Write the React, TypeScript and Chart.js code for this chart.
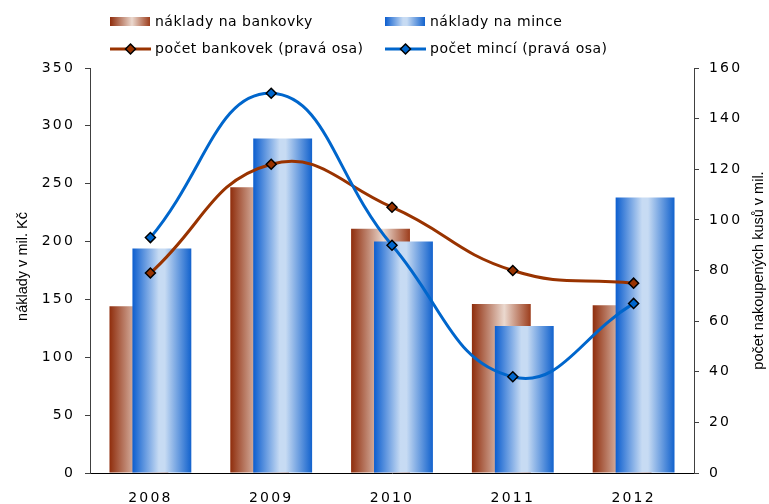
import React, { useEffect, useRef } from 'react';
import { Chart, registerables } from 'chart.js';

Chart.register(...registerables);

// ---- data ----
const categories = ['2008', '2009', '2010', '2011', '2012'];
const nakladyBankovky = [144, 247, 211, 146, 145];
const nakladyMince = [194, 289, 200, 127, 238];
const pocetBankovek = [79, 122, 105, 80, 75];
const pocetMinci = [93, 150, 90, 38, 67];
const seriesLabels = [
  'náklady na bankovky',
  'náklady na mince',
  'počet bankovek (pravá osa)',
  'počet mincí (pravá osa)',
];
const leftAxisTitle = 'náklady v mil. Kč';
const rightAxisTitle = 'počet nakoupených kusů v mil.';
const leftMax = 350;
const leftStep = 50;
const rightMax = 160;
const rightStep = 20;

// ---- styles ----
const BROWN = '#993300';
const BLUE = '#0066CC';
const brownStops: [number, string][] = [
  [0, '#8F2D0C'],
  [0.55, '#EBD9CF'],
  [1, '#9C3D1C'],
];
const blueStops: [number, string][] = [
  [0, '#0C5ECF'],
  [0.45, '#C7DBF3'],
  [0.55, '#C7DBF3'],
  [1, '#1262CD'],
];
const TICK_FONT = { family: 'DejaVu Sans', size: 14 };
const TITLE_FONT = '14.5px "Liberation Sans", Arial, sans-serif';
const LEGEND_FONT = '14px "DejaVu Sans", sans-serif';

function makeGradient(ctx: CanvasRenderingContext2D, x0: number, x1: number, stops: [number, string][]) {
  const g = ctx.createLinearGradient(x0, 0, x1, 0);
  stops.forEach(([o, c]) => g.addColorStop(o, c));
  return g;
}

function drawDiamond(ctx: CanvasRenderingContext2D, x: number, y: number, r: number, fill: string) {
  ctx.beginPath();
  ctx.moveTo(x, y - r);
  ctx.lineTo(x + r, y);
  ctx.lineTo(x, y + r);
  ctx.lineTo(x - r, y);
  ctx.closePath();
  ctx.fillStyle = fill;
  ctx.fill();
  ctx.lineWidth = 1.5;
  ctx.strokeStyle = '#000';
  ctx.stroke();
}

const decorPlugin = {
  id: 'decor',
  beforeDraw(chart: any) {
    chart.ctx.letterSpacing = '2.2px';
  },
  beforeDatasetsDraw(chart: any) {
    const ctx = chart.ctx;
    [0, 1].forEach((di) => {
      const meta = chart.getDatasetMeta(di);
      const stops = di === 0 ? brownStops : blueStops;
      meta.data.forEach((el: any) => {
        const { x, width } = el.getProps(['x', 'width'], true);
        const g = makeGradient(ctx, x - width / 2, x + width / 2, stops);
        el.options = { ...el.options, backgroundColor: g };
      });
    });
  },
  beforeDatasetDraw(chart: any, args: any) {
    // keep the brown bars behind the blue bars
    if (args.index === 0) return false;
    if (args.index === 1) {
      chart.getDatasetMeta(0).controller.draw();
    }
    return true;
  },
  afterDraw(chart: any) {
    const ctx: CanvasRenderingContext2D = chart.ctx;
    const area = chart.chartArea;
    ctx.save();
    (ctx as any).letterSpacing = '0px';
    ctx.fillStyle = '#000';
    ctx.font = TITLE_FONT;
    ctx.textAlign = 'center';
    ctx.textBaseline = 'alphabetic';
    const midY = (area.top + area.bottom) / 2;
    // left title
    ctx.save();
    ctx.translate(27, midY - 4);
    ctx.rotate(-Math.PI / 2);
    ctx.fillText(leftAxisTitle, 0, 0);
    ctx.restore();
    // right title
    ctx.save();
    ctx.translate(763, midY);
    ctx.rotate(-Math.PI / 2);
    ctx.fillText(rightAxisTitle, 0, 0);
    ctx.restore();

    // legend
    (ctx as any).letterSpacing = '0.5px';
    ctx.font = LEGEND_FONT;
    ctx.textAlign = 'left';
    ctx.textBaseline = 'alphabetic';
    const cols = [110, 385];
    const textX = [155, 430];
    // row 1: bars
    [brownStops, blueStops].forEach((stops, i) => {
      const x0 = cols[i];
      ctx.fillStyle = makeGradient(ctx, x0, x0 + 40, stops);
      ctx.fillRect(x0, 17, 40, 9);
      ctx.fillStyle = '#000';
      ctx.fillText(seriesLabels[i], textX[i], 26);
    });
    // row 2: lines
    [BROWN, BLUE].forEach((col, i) => {
      const x0 = cols[i];
      ctx.beginPath();
      ctx.moveTo(x0, 49);
      ctx.lineTo(x0 + 41, 49);
      ctx.lineWidth = 3;
      ctx.strokeStyle = col;
      ctx.stroke();
      drawDiamond(ctx, x0 + 20.5, 49, 5, col);
      ctx.fillStyle = '#000';
      ctx.fillText(seriesLabels[i + 2], textX[i], 53);
    });
    ctx.restore();
  },
};

export default function App() {
  const ref = useRef<HTMLCanvasElement>(null);
  useEffect(() => {
    if (!ref.current) return;
    const barCommon = {
      type: 'bar' as const,
      yAxisID: 'y',
      categoryPercentage: 0.38,
      barPercentage: 2.565,
      borderWidth: 0,
    };
    const lineCommon = {
      type: 'line' as const,
      yAxisID: 'y1',
      borderWidth: 3,
      tension: 0.45,
      pointStyle: 'rectRot',
      pointRadius: 5,
      pointBorderColor: '#000',
      pointBorderWidth: 1.5,
      fill: false,
    };
    const chart = new Chart(ref.current, {
      type: 'bar',
      data: {
        labels: categories,
        datasets: [
          { ...barCommon, label: seriesLabels[0], data: nakladyBankovky, backgroundColor: '#B5654A', order: 2 },
          { ...barCommon, label: seriesLabels[1], data: nakladyMince, backgroundColor: '#6F9EE0', order: 3 },
          {
            ...lineCommon,
            label: seriesLabels[2],
            data: pocetBankovek,
            borderColor: BROWN,
            pointBackgroundColor: BROWN,
            order: 1,
          },
          {
            ...lineCommon,
            label: seriesLabels[3],
            data: pocetMinci,
            borderColor: BLUE,
            pointBackgroundColor: BLUE,
            order: 0,
          },
        ] as any,
      },
      options: {
        responsive: false,
        animation: false,
        devicePixelRatio: 1,
        layout: { padding: { top: 68, left: 0, right: 0, bottom: 0 } },
        plugins: { legend: { display: false }, tooltip: { enabled: false } },
        scales: {
          x: {
            type: 'category',
            offset: true,
            grid: { display: false },
            border: { display: true, color: '#000', width: 1 },
            ticks: { font: TICK_FONT, color: '#000', padding: 9 },
            afterFit: (s: any) => {
              s.height = 31;
            },
          },
          y: {
            position: 'left',
            min: 0,
            max: leftMax,
            ticks: { stepSize: leftStep, padding: 10, font: TICK_FONT, color: '#000' },
            grid: { drawOnChartArea: false, drawTicks: true, tickLength: 5, color: '#404040' },
            border: { display: true, color: '#404040', width: 1 },
            afterFit: (s: any) => {
              s.width = 90;
            },
          },
          y1: {
            position: 'right',
            min: 0,
            max: rightMax,
            ticks: { stepSize: rightStep, padding: 10, font: TICK_FONT, color: '#000' },
            grid: { drawOnChartArea: false, drawTicks: true, tickLength: 5, color: '#404040' },
            border: { display: true, color: '#404040', width: 1 },
            afterFit: (s: any) => {
              s.width = 75;
            },
          },
        },
      } as any,
      plugins: [decorPlugin],
    });
    return () => chart.destroy();
  }, []);
  return (
    <div style={{ position: 'absolute', left: 0, top: 0, width: 769, height: 504, background: '#fff' }}>
      <canvas ref={ref} width={769} height={504} style={{ display: 'block', width: 769, height: 504 }} />
    </div>
  );
}
